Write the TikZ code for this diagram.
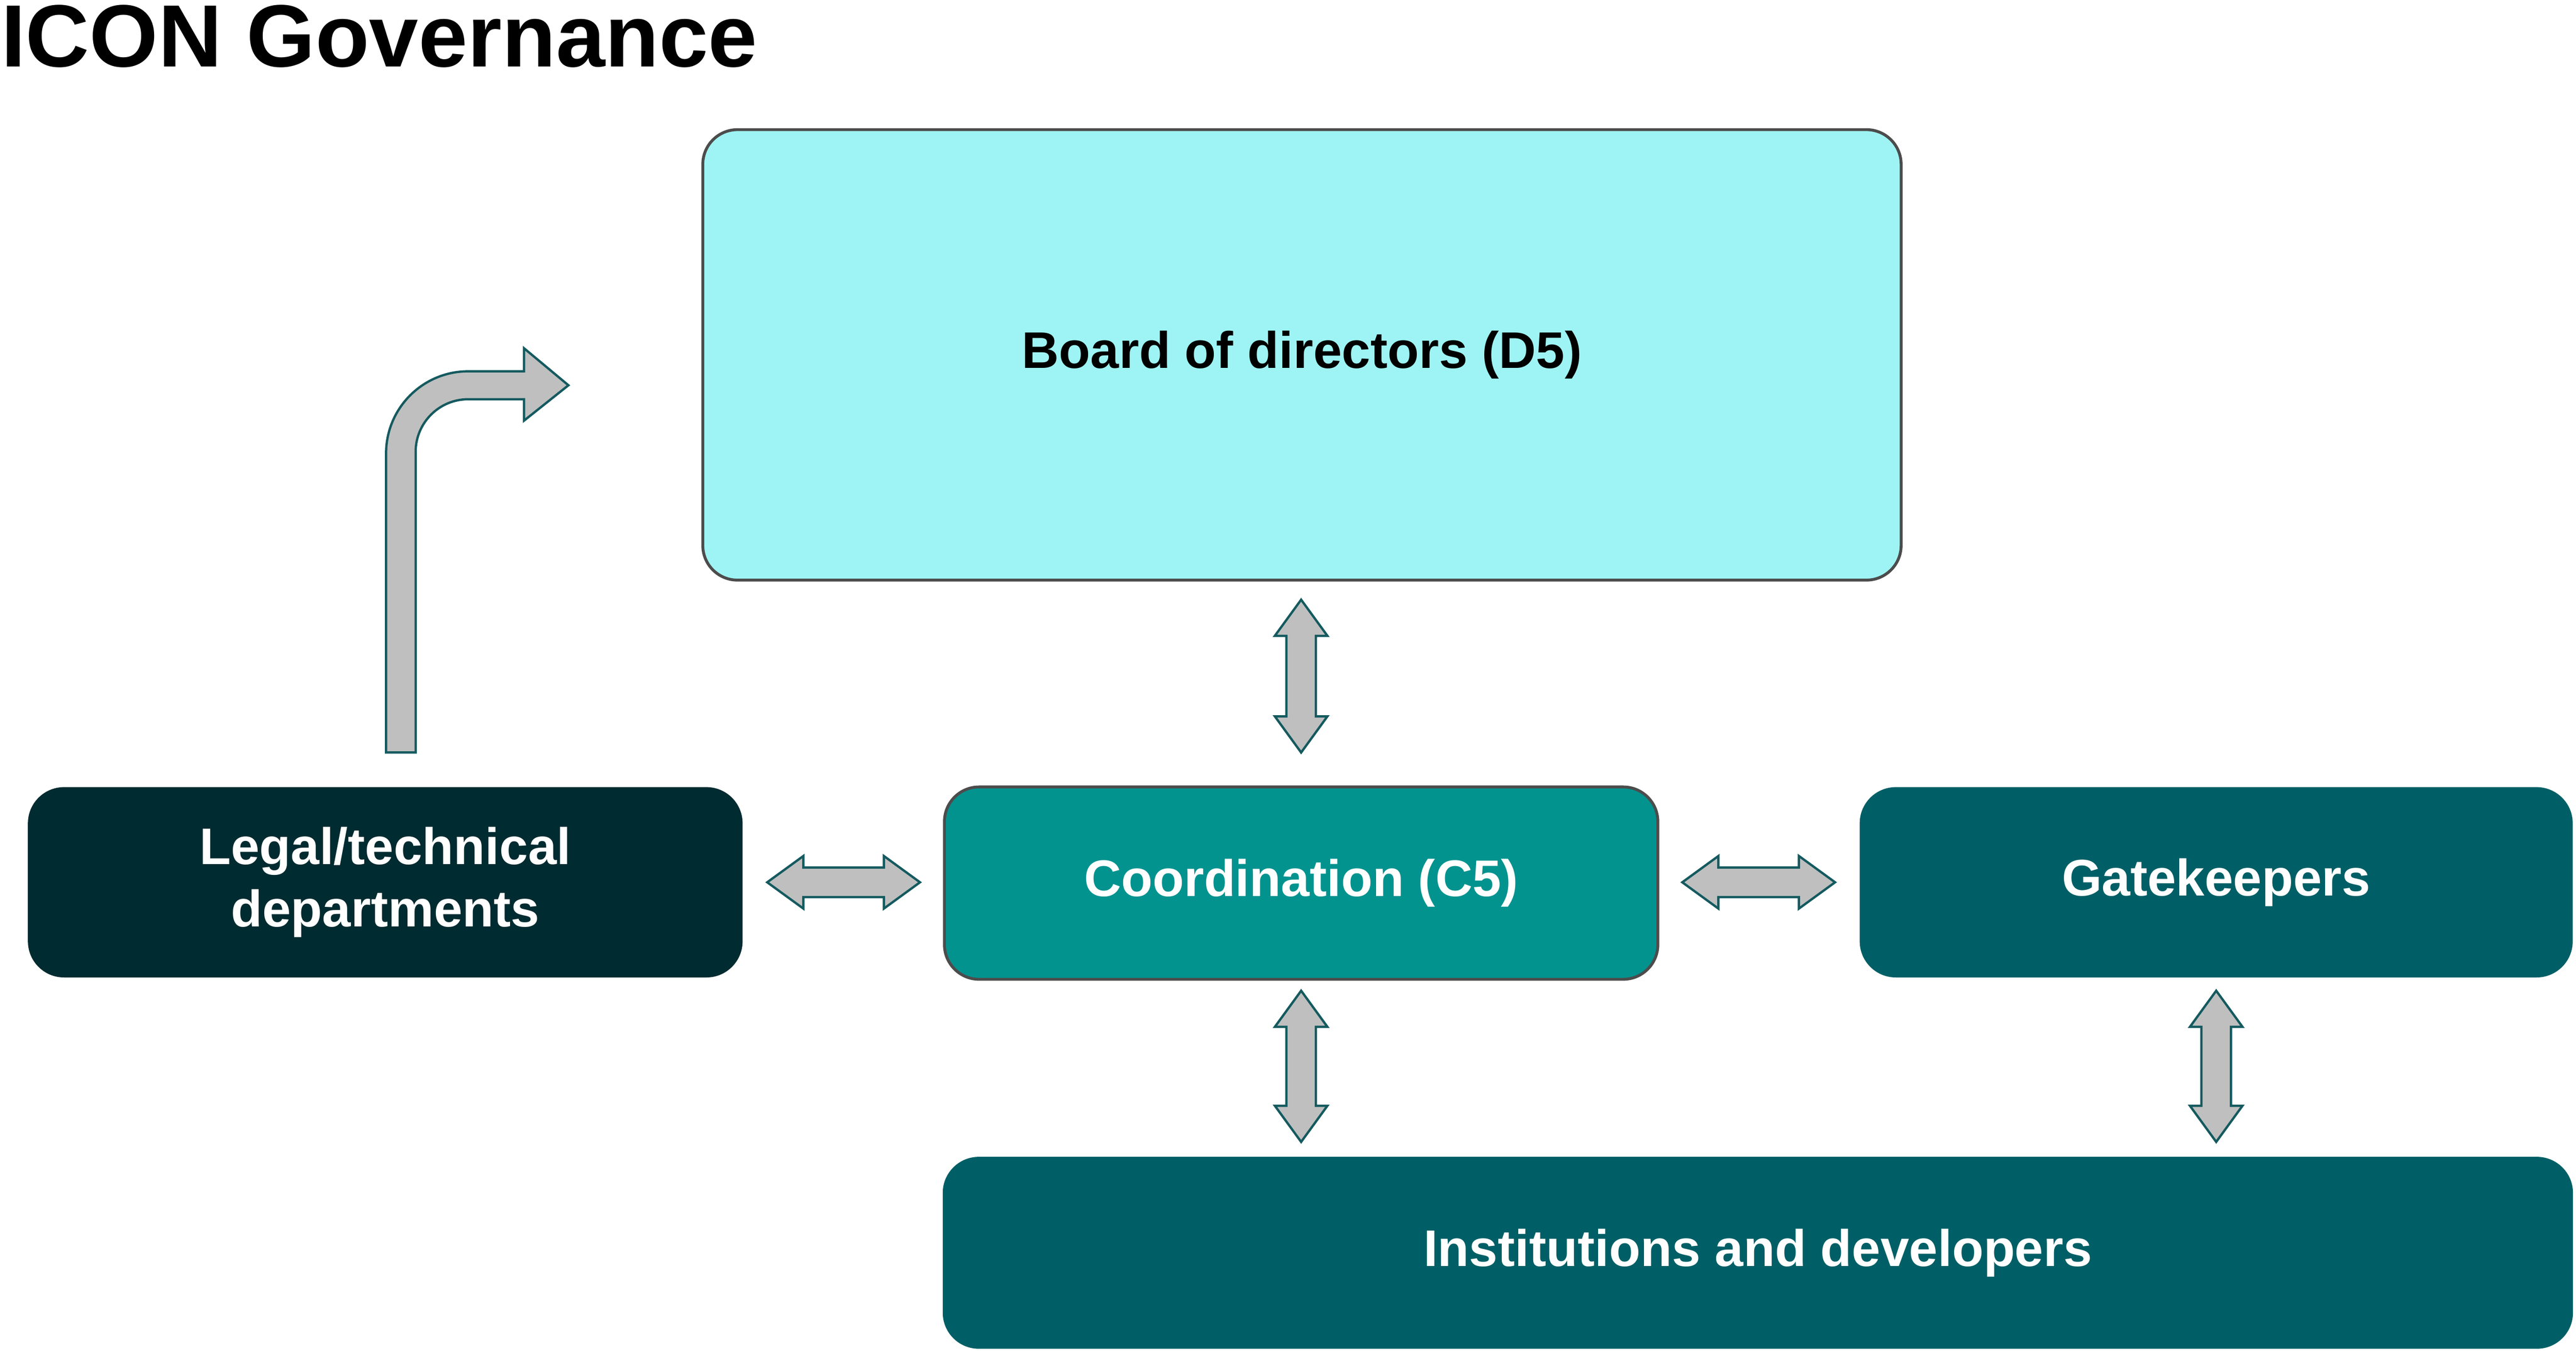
\documentclass[tikz,border=0pt]{standalone}
\usepackage{fontspec}
\setmainfont{Liberation Sans}
\usetikzlibrary{positioning,calc}
\definecolor{BoardCyan}{RGB}{158,244,244}
\definecolor{DeepTeal}{RGB}{0,43,48}
\definecolor{MidTeal}{RGB}{3,147,143}
\definecolor{DarkTeal}{RGB}{0,95,102}
\definecolor{ArrowGray}{RGB}{191,191,191}
\definecolor{ArrowEdge}{RGB}{20,90,95}
\tikzset{
    govbox/.style={rounded corners=6pt, draw=black!70, line width=0.5pt, align=center,
        font=\bfseries\fontsize{8.9}{10.8}\selectfont, text=white, inner sep=0pt},
    arrowbody/.style={draw=ArrowEdge, fill=ArrowGray, line width=0.4pt},
    darrow/.pic={
        \draw[arrowbody] (-#1,0) -- (-#1+22,-16) -- (-#1+22,-9) -- (#1-22,-9) -- (#1-22,-16)
            -- (#1,0) -- (#1-22,16) -- (#1-22,9) -- (-#1+22,9) -- (-#1+22,16) -- cycle;
    }
}
\begin{document}
\begin{tikzpicture}[x=0.01cm,y=-0.01cm]
    \useasboundingbox (0,0) rectangle (1568,822);
    % titel
    \node[anchor=west, font=\bfseries\fontsize{15.3}{18}\selectfont, inner sep=0pt] (title) at (0,22) {ICON Governance};
    % boxes
    \node[govbox, fill=BoardCyan, text=black, minimum width=7.29cm, minimum height=2.74cm] (board) at (792.5,216) {Board of directors (D5)};
    \node[govbox, fill=DeepTeal, draw=DeepTeal, minimum width=4.33cm, minimum height=1.14cm] (legal) at (234.5,537) {Legal/technical\\departments};
    \node[govbox, fill=MidTeal, minimum width=4.34cm, minimum height=1.17cm] (coord) at (792,537.5) {Coordination (C5)};
    \node[govbox, fill=DarkTeal, draw=DarkTeal, minimum width=4.32cm, minimum height=1.14cm] (gate) at (1349,537) {Gatekeepers};
    \node[govbox, fill=DarkTeal, draw=DarkTeal, minimum width=9.9cm, minimum height=1.15cm] (inst) at (1070,762.5) {Institutions and developers};
    % arrows between boxes
    \pic[rotate=90] at (792,411.5) {darrow=46.5};
    \pic at (513.5,537) {darrow=46.5};
    \pic at (1070.5,537) {darrow=46.5};
    \pic[rotate=90] at (792,649) {darrow=46};
    \pic[rotate=90] at (1349,649) {darrow=46};
    % bent arrow
    \coordinate (bend) at (235,458);
    \draw[arrowbody]
        (bend) -- (235,276) arc (180:270:50) -- (319,226) -- (319,212) -- (346,234.5)
        -- (319,256) -- (319,243) -- (285,243) arc (270:180:32) -- (253,458) -- cycle;
\end{tikzpicture}
\end{document}
